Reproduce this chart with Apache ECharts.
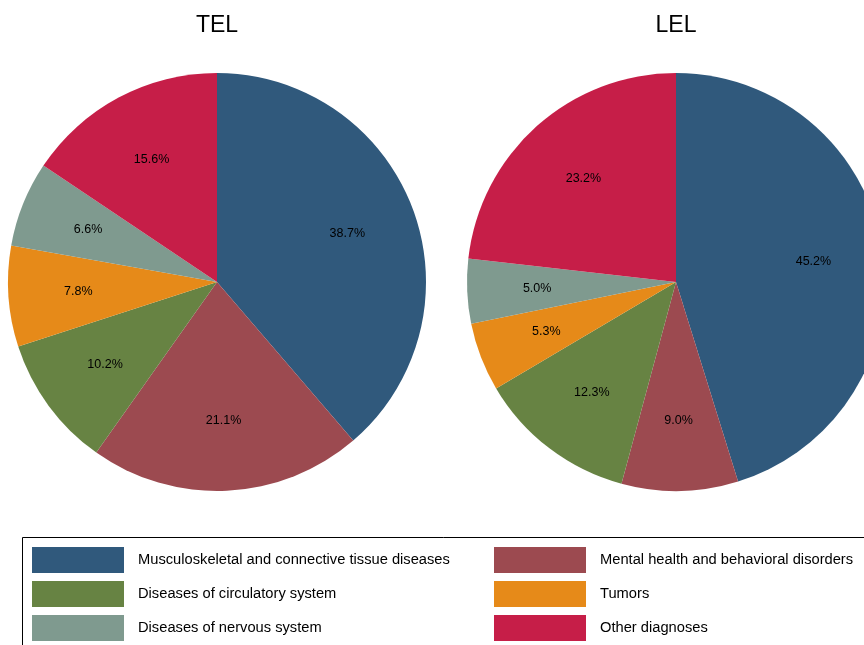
<!DOCTYPE html>
<html>
<head>
<meta charset="utf-8">
<script src="https://cdn.jsdelivr.net/npm/echarts@6/dist/echarts.min.js"></script>
<style>
  html, body { margin: 0; padding: 0; background: #fff; }
  #chart { width: 864px; height: 645px; }
</style>
</head>
<body>
<div id="chart"></div>
<script>
// Diagnosis groups, in clockwise order starting from 12 o'clock
const categories = [
  'Musculoskeletal and connective tissue diseases',
  'Mental health and behavioral disorders',
  'Diseases of circulatory system',
  'Tumors',
  'Diseases of nervous system',
  'Other diagnoses'
];
const colors = ['#30597c', '#9c4a50', '#678343', '#e68a19', '#7f9a8f', '#c61e48'];

// Share of cases (%) per group
const telValues = [38.7, 21.1, 10.2, 7.8, 6.6, 15.6];
const lelValues = [45.2, 9.0, 12.3, 5.3, 5.0, 23.2];

const FONT = 'Liberation Sans, Arial, sans-serif';
const R = 209;       // pie radius in px
const LABEL_R0 = 63; // inner radius of the label ring, puts labels at ~2/3 of R

function toData(values) {
  return categories.map((name, i) => ({ name, value: values[i] }));
}

function pieSeries(center, values) {
  return [
    {
      type: 'pie',
      center,
      radius: [0, R],
      startAngle: 90,
      clockwise: true,
      silent: true,
      animation: false,
      label: { show: false },
      labelLine: { show: false },
      itemStyle: { borderWidth: 0 },
      emphasis: { disabled: true },
      data: toData(values)
    },
    {
      // transparent ring used only to place the percentage labels
      type: 'pie',
      center,
      radius: [LABEL_R0, R],
      startAngle: 90,
      clockwise: true,
      silent: true,
      animation: false,
      itemStyle: { color: 'rgba(0,0,0,0)', borderWidth: 0 },
      emphasis: { disabled: true },
      label: {
        show: true,
        position: 'inside',
        color: '#000',
        fontFamily: FONT,
        fontSize: 12.5,
        formatter: p => p.value.toFixed(1) + '%'
      },
      labelLine: { show: false },
      data: toData(values)
    }
  ];
}

const legendBase = {
  orient: 'vertical',
  top: 547,
  height: 120,
  padding: 0,
  itemWidth: 92,
  itemHeight: 26,
  itemGap: 8,
  icon: 'rect',
  selectedMode: false,
  textStyle: { fontFamily: FONT, fontSize: 14.7, color: '#000', padding: [0, 0, 0, 9] }
};

const titleStyle = { fontFamily: FONT, fontSize: 23, fontWeight: 'normal', color: '#000' };

const chart = echarts.init(document.getElementById('chart'), null, { renderer: 'canvas' });
chart.setOption({
  animation: false,
  color: colors,
  title: [
    { text: 'TEL', left: 217, top: 14, padding: 0, textAlign: 'center', textStyle: titleStyle },
    { text: 'LEL', left: 676, top: 14, padding: 0, textAlign: 'center', textStyle: titleStyle }
  ],
  legend: [
    Object.assign({}, legendBase, { left: 32, data: [categories[0], categories[2], categories[4]] }),
    Object.assign({}, legendBase, { left: 494, data: [categories[1], categories[3], categories[5]] })
  ],
  graphic: [
    {
      type: 'rect',
      shape: { x: 22.5, y: 537.5, width: 900, height: 200 },
      style: { fill: 'none', stroke: '#000', lineWidth: 1 },
      silent: true,
      z: -1
    }
  ],
  series: [
    ...pieSeries([217, 282], telValues),
    ...pieSeries([676, 282], lelValues)
  ]
});
</script>
</body>
</html>
